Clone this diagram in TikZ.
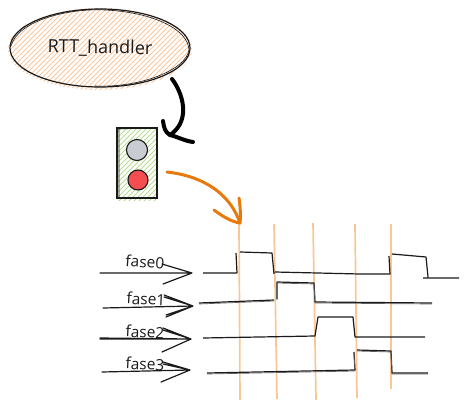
\documentclass[tikz,border=0pt]{standalone}
\usepackage{fontspec}
\setmainfont{Open Sans}
\usetikzlibrary{shapes.geometric}
\definecolor{orangeline}{HTML}{E8790C}
\definecolor{orangehatch}{HTML}{FBC79C}
\definecolor{orangeguide}{HTML}{F8C795}
\definecolor{greenhatch}{HTML}{B9DC93}
\definecolor{stopgray}{HTML}{C9CDD3}
\definecolor{stopred}{HTML}{F64D50}
\definecolor{ink}{HTML}{1A1A1A}
\tikzset{
  handlerbox/.style={ellipse,draw=ink,line width=1.2pt,minimum width=180pt,minimum height=78pt,inner sep=0pt},
  lightbox/.style={rectangle,draw=ink,line width=1.2pt,minimum width=40pt,minimum height=70pt,inner sep=0pt},
  lamp/.style={circle,draw=ink,line width=1.1pt,inner sep=0pt},
  hatch/.style={line width=1pt},
  guide/.style={draw=orangeguide,line width=1.7pt},
  signal/.style={draw=ink,line width=1.2pt,line join=round},
  signalghost/.style={draw=ink!70,line width=.7pt,line join=round},
  bigarrow/.style={draw=black,line width=4pt,line cap=round,line join=round},
  orangearrow/.style={draw=orangeline,line width=3pt,line cap=round,line join=round},
  phasearrow/.style={draw=ink,line width=1.2pt,line cap=round},
  phaselabel/.style={font=\fontsize{15.5}{17}\selectfont,text=ink,inner sep=0pt},
}
\begin{document}
\begin{tikzpicture}[x=1pt,y=-1pt]
\useasboundingbox (0,0) rectangle (469,410);
% hatching
\begin{scope}
  \clip (100,49) ellipse [x radius=92,y radius=41];
  \foreach \k in {-100,-95,...,200}{\draw[orangehatch,hatch] (\k,100)--(\k+100,0);}
\end{scope}
\begin{scope}
  \clip (116,127) rectangle (158,200);
  \foreach \k in {20,25,...,170}{\draw[greenhatch,hatch] (\k,210)--(\k+90,120);}
\end{scope}
% main shapes
\node[handlerbox] (handler) at (100,48) {};
\draw[ink,line width=.6pt] (11,46) .. controls (18,20) and (70,8) .. (105,10) .. controls (150,12) and (188,28) .. (189,50) .. controls (186,70) and (140,88) .. (95,86);
\node[font=\fontsize{18}{20}\selectfont,text=ink,inner sep=0pt,rotate=-1] (htext) at (100,48) {RTT\_handler};
\node[lightbox] (light) at (137,163) {};
\draw[ink,line width=.6pt] (119,127)--(119,198) (116,129)--(157,128);
\node[lamp,fill=stopgray,minimum size=21pt] (grey) at (137,150) {};
\node[lamp,fill=stopred,minimum size=20pt] (red) at (138,180) {};
% guides
\coordinate (g1a) at (239,223); \coordinate (g1b) at (240,400);
\coordinate (g2a) at (274,224); \coordinate (g2b) at (277,399);
\coordinate (g3a) at (313,223); \coordinate (g3b) at (316,400);
\coordinate (g4a) at (355,224); \coordinate (g4b) at (357,398);
\coordinate (g5a) at (391,224); \coordinate (g5b) at (391,389);
\foreach \g in {1,...,5}{\draw[guide] (g\g a)--(g\g b);}
% big arrows
\coordinate (bs) at (172,79); \coordinate (bt) at (170,135);
\draw[bigarrow] (bs) .. controls (182,92) and (192,120) .. (bt);
\draw[bigarrow] (163,121) .. controls (164,128) and (165,132) .. (bt) .. controls (178,137) and (185,141) .. (193,142);
\coordinate (os) at (167,172); \coordinate (ot) at (240,223);
\draw[orangearrow] (os) .. controls (195,175) and (228,188) .. (ot);
\draw[orangearrow] (214,210) .. controls (222,216) and (232,222) .. (ot) .. controls (241,215) and (240,205) .. (239,198);
% signals
\newcommand{\wavezero}{(203,273)--(237,273)--(236,253) (240,252)--(272,253)--(274,274) (275,272)--(360,274)--(390,274)--(389,256) (392,254)--(426,257)--(428,277) (423,278)--(459,278)}
\newcommand{\waveone}{(199,303)--(274,300) (277,299)--(277,282)--(314,283)--(315,302)--(432,303)}
\newcommand{\wavetwo}{(203,338)--(315,336)--(318,317)--(353,317)--(355,337)--(425,337)}
\newcommand{\wavethree}{(207,373)--(355,370)--(354,352) (357,350)--(391,351)--(392,373)--(428,373)}
\draw[signal] \wavezero;
\draw[signal] \waveone;
\draw[signal] \wavetwo;
\draw[signal] \wavethree;
\begin{scope}[yshift=-1pt]
\draw[signalghost] \waveone;
\draw[signalghost] \wavethree;
\end{scope}
% phase arrows
\coordinate (p0s) at (100,273); \coordinate (p0t) at (192,273);
\coordinate (p1s) at (103,308); \coordinate (p1t) at (193,306);
\coordinate (p2s) at (100,338); \coordinate (p2t) at (191,339);
\coordinate (p3s) at (102,372); \coordinate (p3t) at (190,370);
\draw[phasearrow] (p0s)--(p0t) (162,264)--(p0t) (163,284)--(p0t);
\draw[phasearrow] (p1s)--(p1t) (164,297)--(p1t) (166,317)--(p1t) (164,295)--(p1t) (166,315)--(p1t);
\draw[phasearrow] (p2s)--(p2t) (100,339)--(p2t) (163,330)--(p2t) (162,352)--(p2t) (163,328)--(p2t);
\draw[phasearrow] (p3s)--(p3t) (163,362)--(p3t) (161,382)--(p3t) (163,364)--(p3t);
\node[phaselabel,rotate=-4] (l0) at (145,262) {fase0};
\node[phaselabel,rotate=-3] (l1) at (146,299) {fase1};
\node[phaselabel,rotate=-3] (l2) at (145,332) {fase2};
\node[phaselabel,rotate=-3] (l3) at (145,364) {fase3};
\end{tikzpicture}
\end{document}
